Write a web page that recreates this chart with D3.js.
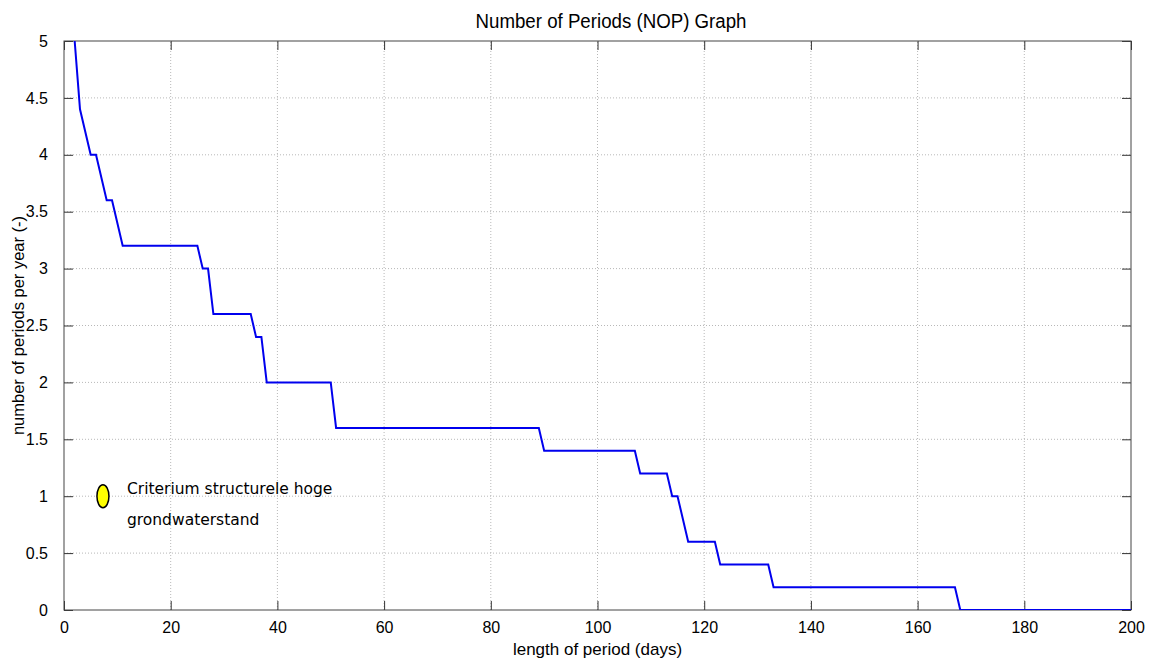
<!DOCTYPE html>
<html>
<head>
<meta charset="utf-8">
<title>Number of Periods (NOP) Graph</title>
<script src="https://d3js.org/d3.v7.min.js"></script>
<style>
    body { margin: 0; background: #fff; }
    svg { display: block; }
    .tick text { font-family: "Liberation Sans", Arial, sans-serif; font-size: 16px; fill: #000; }
    .grid line { stroke: #b8b8b8; stroke-dasharray: 1,2; }
    .frame { fill: none; stroke: #444; stroke-width: 1; }
</style>
</head>
<body>
<svg id="chart" width="1155" height="662"></svg>
<script>
// period length (days) and number of periods per year, step breakpoints
const days   = [2, 3, 5, 6, 8, 9, 11, 25, 26, 27, 28, 35, 36, 37, 38, 50, 51, 89, 90, 107, 108, 113, 114, 115, 117, 122, 123, 132, 133, 167, 168, 200];
const values = [5, 4.4, 4.0, 4.0, 3.6, 3.6, 3.2, 3.2, 3.0, 3.0, 2.6, 2.6, 2.4, 2.4, 2.0, 2.0, 1.6, 1.6, 1.4, 1.4, 1.2, 1.2, 1.0, 1.0, 0.6, 0.6, 0.4, 0.4, 0.2, 0.2, 0, 0];

const xTicks = [0, 20, 40, 60, 80, 100, 120, 140, 160, 180, 200];
const yTicks = [0, 0.5, 1, 1.5, 2, 2.5, 3, 3.5, 4, 4.5, 5];

// criterium marker
const markerDay = [7.3];
const markerVal = [1.0];
const markerText = ["Criterium structurele hoge", "grondwaterstand"];

const margin = {left: 64, right: 24, top: 41, bottom: 52};
const W = 1155, H = 662;
const svg = d3.select("#chart");

const x = d3.scaleLinear().domain([0, 200]).range([margin.left, W - margin.right]);
const y = d3.scaleLinear().domain([0, 5]).range([H - margin.bottom, margin.top]);

// grid
svg.append("g").attr("class", "grid")
    .selectAll("line.gx").data(xTicks.slice(1, -1)).enter().append("line")
    .attr("x1", d => x(d)).attr("x2", d => x(d))
    .attr("y1", y(0)).attr("y2", y(5));
svg.append("g").attr("class", "grid")
    .selectAll("line.gy").data(yTicks.slice(1, -1)).enter().append("line")
    .attr("x1", x(0)).attr("x2", x(200))
    .attr("y1", d => y(d)).attr("y2", d => y(d));

// axes with inward ticks on all four sides
const tl = 9;
const xb = svg.append("g").attr("transform", `translate(0,${y(0)})`)
    .call(d3.axisBottom(x).tickValues(xTicks).tickSizeInner(-tl).tickSizeOuter(0).tickPadding(tl + 11).tickFormat(d3.format("d")));
const xt = svg.append("g").attr("transform", `translate(0,${y(5)})`)
    .call(d3.axisTop(x).tickValues(xTicks).tickSizeInner(-tl).tickSizeOuter(0).tickFormat(""));
const yl = svg.append("g").attr("transform", `translate(${x(0)},0)`)
    .call(d3.axisLeft(y).tickValues(yTicks).tickSizeInner(-tl).tickSizeOuter(0).tickPadding(tl + 7).tickFormat(d => d));
const yr = svg.append("g").attr("transform", `translate(${x(200)},0)`)
    .call(d3.axisRight(y).tickValues(yTicks).tickSizeInner(-tl).tickSizeOuter(0).tickFormat(""));
[xb, xt, yl, yr].forEach(g => {
    g.select(".domain").remove();
    g.selectAll(".tick line").attr("stroke", "#333");
});
xb.selectAll(".tick text").attr("dy", "0.2em");

svg.append("rect").attr("class", "frame")
    .attr("x", x(0)).attr("y", y(5))
    .attr("width", x(200) - x(0)).attr("height", y(0) - y(5));

// clip
svg.append("clipPath").attr("id", "clip").append("rect")
    .attr("x", x(0)).attr("y", y(5)).attr("width", x(200) - x(0)).attr("height", y(0) - y(5));

const pts = days.map((d, i) => [d, values[i]]);
svg.append("path")
    .datum(pts)
    .attr("clip-path", "url(#clip)")
    .attr("fill", "none")
    .attr("stroke", "#0000ee")
    .attr("stroke-width", 2)
    .attr("d", d3.line().x(d => x(d[0])).y(d => y(d[1])));

// marker + text
svg.selectAll("ellipse.mk").data(markerDay).enter().append("ellipse")
    .attr("cx", d => x(d)).attr("cy", (d, i) => y(markerVal[i]))
    .attr("rx", 6).attr("ry", 11.5)
    .attr("fill", "#ffff00").attr("stroke", "#000").attr("stroke-width", 1.5);

svg.selectAll("text.mt").data(markerText).enter().append("text")
    .attr("x", x(markerDay[0]) + 24)
    .attr("y", (d, i) => y(markerVal[0]) - 2 + i * 31)
    .attr("font-family", "DejaVu Sans, Verdana, sans-serif")
    .attr("font-size", 15.5)
    .attr("fill", "#000")
    .text(d => d);

// title and labels
svg.append("text")
    .attr("x", 611).attr("y", 28)
    .attr("text-anchor", "middle")
    .attr("font-family", "Liberation Sans, Arial, sans-serif")
    .attr("font-size", 20)
    .attr("textLength", 271)
    .attr("lengthAdjust", "spacingAndGlyphs")
    .text("Number of Periods (NOP) Graph");

svg.append("text")
    .attr("x", (x(0) + x(200)) / 2).attr("y", 655)
    .attr("text-anchor", "middle")
    .attr("font-family", "Liberation Sans, Arial, sans-serif")
    .attr("font-size", 17)
    .text("length of period (days)");

svg.append("text")
    .attr("transform", `translate(24,${(y(0) + y(5)) / 2}) rotate(-90)`)
    .attr("text-anchor", "middle")
    .attr("font-family", "Liberation Sans, Arial, sans-serif")
    .attr("font-size", 16.5)
    .text("number of periods per year (-)");
</script>
</body>
</html>
